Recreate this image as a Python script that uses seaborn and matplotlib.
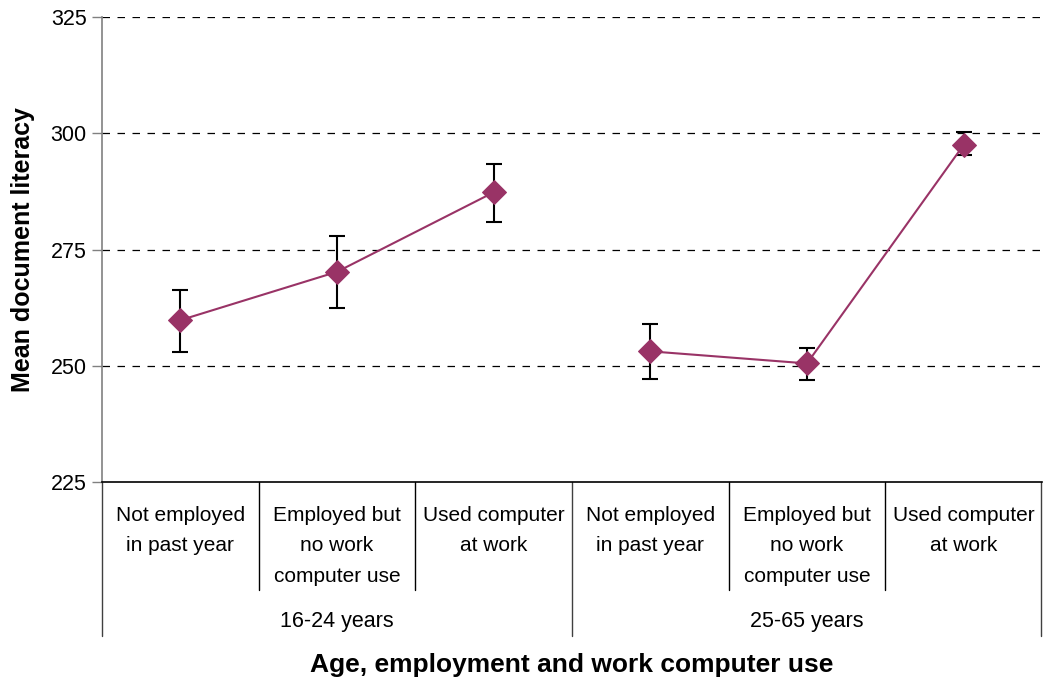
import numpy as np
import pandas as pd
import matplotlib
matplotlib.use("Agg")
import matplotlib.pyplot as plt
import matplotlib.transforms as mtrans
import seaborn as sns

# ---- data ----
categories = ["Not employed\nin past year", "Employed but\nno work\ncomputer use", "Used computer\nat work",
              "Not employed\nin past year", "Employed but\nno work\ncomputer use", "Used computer\nat work"]
groups = ["16-24 years", "16-24 years", "16-24 years", "25-65 years", "25-65 years", "25-65 years"]
group_labels = ["16-24 years", "25-65 years"]
means = [259.8, 270.2, 287.3, 253.1, 250.5, 297.5]
err_low = [253.0, 262.4, 280.9, 247.1, 247.0, 295.4]
err_high = [266.2, 277.9, 293.4, 259.0, 253.9, 300.2]
yticks = [225, 250, 275, 300, 325]

purple = "#993366"

sns.set_style("white")
plt.rcParams["font.family"] = ["Liberation Sans", "DejaVu Sans"]
plt.rcParams["text.color"] = "black"
plt.rcParams["axes.labelcolor"] = "black"
plt.rcParams["ytick.labelcolor"] = "black"

df = pd.DataFrame({"pos": np.arange(len(categories)), "mean": means, "group": groups})

fig = plt.figure(figsize=(10.43, 6.84), dpi=100)
ax = fig.add_axes([102 / 1043, (684 - 482) / 684, (1042 - 102) / 1043, 465 / 684])

sns.lineplot(data=df, x="pos", y="mean", hue="group", palette=[purple, purple], marker="D",
             markersize=12, markeredgecolor=purple, linewidth=1.5, legend=False, ax=ax, zorder=3)

yerr = np.array([np.array(means) - np.array(err_low), np.array(err_high) - np.array(means)])
ax.errorbar(df["pos"], df["mean"], yerr=yerr, fmt="none", ecolor="black", elinewidth=1.5,
            capsize=6, capthick=1.5, zorder=2)

ax.set_xlim(-0.5, len(categories) - 0.5)
ax.set_ylim(225, 325)
ax.set_yticks(yticks)
ax.set_yticklabels([str(v) for v in yticks], fontsize=15.5, color="black")
ax.set_xticks([])
ax.set_xlabel("")
ax.set_ylabel("Mean document literacy", fontsize=18, fontweight="bold", color="black")
ax.yaxis.set_label_coords(-(102 - 35) / 940, 0.5)

for v in yticks[1:]:
    ax.axhline(v, color="black", lw=0.9, ls=(0, (6, 6)), zorder=1)

ax.tick_params(axis="y", left=True, length=7, width=1, color="#808080", pad=4)
for s in ["top", "right"]:
    ax.spines[s].set_visible(False)
ax.spines["left"].set_color("#808080")
ax.spines["left"].set_linewidth(1.2)
ax.spines["bottom"].set_color("black")
ax.spines["bottom"].set_linewidth(1.2)

trans = mtrans.blended_transform_factory(ax.transData, ax.transAxes)
inner_bottom = -(590 - 482) / 465
outer_bottom = -(636 - 482) / 465
n = len(categories)
for i in range(n + 1):
    b = i - 0.5
    is_outer = (i % 3 == 0)
    xx = b if i < n else b - 0.006
    ax.plot([xx, xx], [0, outer_bottom if is_outer else inner_bottom],
            color="#404040" if is_outer else "black", lw=1.0, transform=trans, clip_on=False)

for i, lab in enumerate(categories):
    ax.text(i, -(506 - 482) / 465, lab, transform=trans, ha="center", va="top",
            fontsize=15, linespacing=1.75, color="black")

for gi, g in enumerate(group_labels):
    idx = [i for i, gg in enumerate(groups) if gg == g]
    ax.text(np.mean(idx), -(622 - 482) / 465, g, transform=trans, ha="center", va="center",
            fontsize=15.5, color="black")

fig.text((308 + 835) / 2 / 1043, 1 - 665 / 684, "Age, employment and work computer use",
         ha="center", va="center", fontsize=19, fontweight="bold", color="black")

fig.savefig("out.png", dpi=100)
